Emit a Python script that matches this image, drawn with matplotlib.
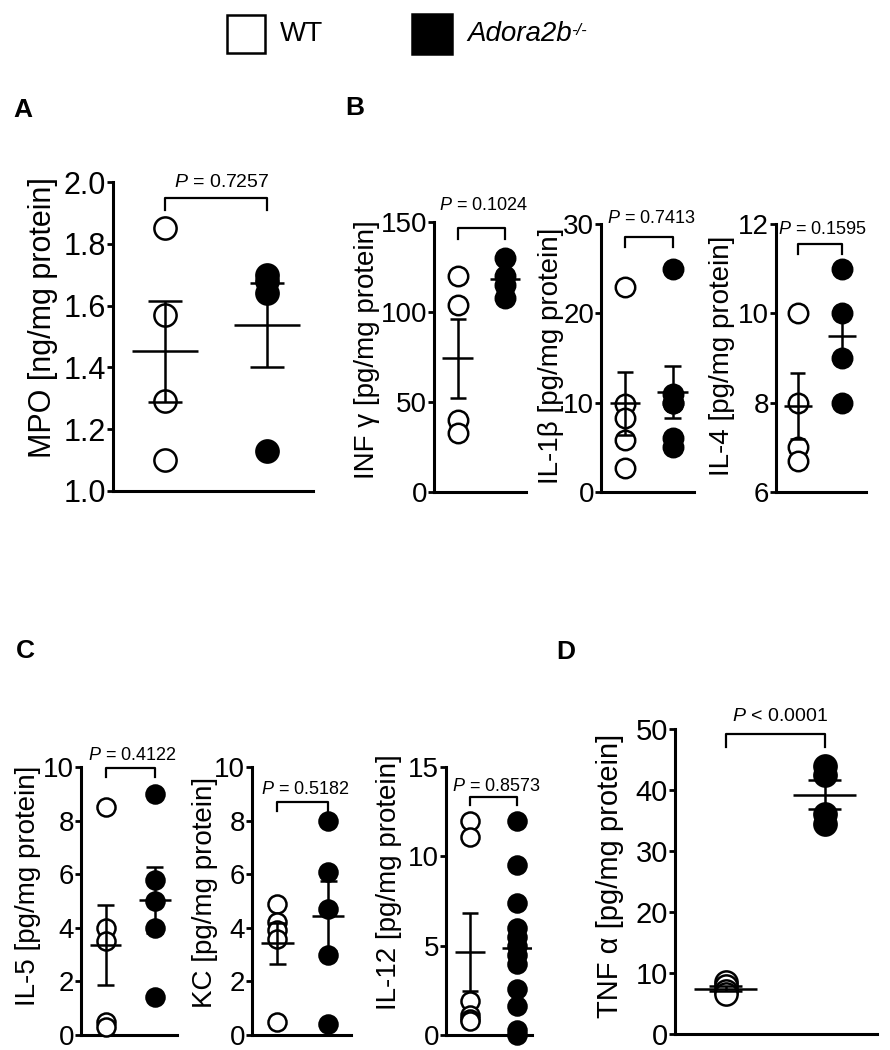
import numpy as np
import matplotlib
matplotlib.use("Agg")
import matplotlib.pyplot as plt
from matplotlib.patches import Rectangle

plt.rcParams.update({
    "font.family": ["Liberation Sans", "DejaVu Sans"],
    "mathtext.fontset": "custom",
    "mathtext.rm": "Liberation Sans",
    "mathtext.it": "Liberation Sans:italic",
    "mathtext.bf": "Liberation Sans:bold",
})

W, H = 890, 1050

# ---- data ----
groups = ["WT", "Adora2b"]

mpo_wt = [1.85, 1.57, 1.29, 1.10]
mpo_ko = [1.70, 1.68, 1.64, 1.13]

ifng_wt = [120, 104, 40, 33]
ifng_ko = [130, 120, 115, 108]

il1b_wt = [23, 9.8, 8.3, 5.8, 2.7]
il1b_ko = [25, 11, 10, 10, 6, 5]

il4_wt = [10, 8, 7, 6.7]
il4_ko = [11, 10, 9, 8]

il5_wt = [8.5, 4, 3.5, 0.5, 0.3]
il5_ko = [9, 5.8, 5, 4, 1.4]

kc_wt = [4.9, 4.2, 3.9, 3.6, 0.5]
kc_ko = [8, 6.1, 4.7, 3, 0.4]

il12_wt = [12, 11.1, 1.9, 1.1, 0.9, 0.8]
il12_ko = [12, 9.5, 7.4, 6, 5.5, 5, 4.5, 4, 2.6, 1.6, 0.3, 0]

tnf_wt = [8.5, 7.8, 7, 6.5]
tnf_ko = [44, 42.5, 36, 34.5]

p_labels = ["= 0.7257", "= 0.1024", "= 0.7413", "= 0.1595",
            "= 0.4122", "= 0.5182", "= 0.8573", "< 0.0001"]


def rect(l, t, r, b):
    return [l / W, 1 - b / H, (r - l) / W, (b - t) / H]


fig = plt.figure(figsize=(W / 100, H / 100), dpi=100)
fig.patch.set_facecolor("white")


def panel(box, wt, ko, ylim, yticks, ylabel, lab_px, ptext, br, xlim=(0.5, 2.45),
          ms=14, fs=20, lfs=20, pfs=13, fmt=None):
    l, t, r, b = box
    ax = fig.add_axes(rect(*box))
    for s in ["top", "right"]:
        ax.spines[s].set_visible(False)
    for s in ["left", "bottom"]:
        ax.spines[s].set_linewidth(2.2)
    ax.set_xlim(*xlim)
    ax.set_ylim(*ylim)
    ax.set_yticks(yticks)
    if fmt:
        ax.set_yticklabels([fmt.format(v) for v in yticks])
    ax.tick_params(axis="y", length=4, width=2, labelsize=fs, pad=1)
    ax.tick_params(axis="x", bottom=False, labelbottom=False)

    # points, mean and SEM for each group
    for x, vals, face in [(1, wt, "white"), (2, ko, "black")]:
        vals = np.asarray(vals, dtype=float)
        ax.plot(np.full(len(vals), x), vals, "o", ms=ms, mfc=face, mec="black",
                mew=1.8, clip_on=False, zorder=3)
        m = vals.mean()
        se = vals.std(ddof=1) / np.sqrt(len(vals))
        ax.hlines(m, x - 0.32, x + 0.32, color="black", lw=1.8, zorder=4)
        ax.vlines(x, m - se, m + se, color="black", lw=1.8, zorder=4)
        ax.hlines([m - se, m + se], x - 0.17, x + 0.17, color="black", lw=1.8, zorder=4)

    # significance bracket
    y_line, y_drop, y_text = br
    ax.plot([1, 1, 2, 2], [y_drop, y_line, y_line, y_drop], color="black", lw=1.6,
            clip_on=False)
    ax.text(1.55, y_text, r"$P$ " + ptext, ha="center", va="center", fontsize=pfs,
            clip_on=False)

    lx, ly = lab_px
    ax.text((lx - l) / (r - l), (b - ly) / (b - t), ylabel, transform=ax.transAxes,
            rotation=90, ha="center", va="center", fontsize=lfs)
    return ax


# A
panel((113, 182, 313, 491), mpo_wt, mpo_ko, (1.0, 2.0), np.arange(1.0, 2.01, 0.2),
      "MPO [ng/mg protein]", (43, 318), p_labels[0], (1.948, 1.908, 1.997),
      xlim=(0.49, 2.45), ms=16, fs=22, lfs=22, pfs=14, fmt="{:.1f}")
# B
panel((434, 222, 526, 492), ifng_wt, ifng_ko, (0, 150), [0, 50, 100, 150],
      "INF γ [pg/mg protein]", (367, 350), p_labels[1], (146.7, 140.5, 159.4))
panel((601, 224, 694, 492), il1b_wt, il1b_ko, (0, 30), [0, 10, 20, 30],
      "IL-1β [pg/mg protein]", (551, 356), p_labels[2], (28.6, 27.4, 30.6))
panel((776, 224, 866, 492), il4_wt, il4_ko, (6, 12), [6, 8, 10, 12],
      "IL-4 [pg/mg protein]", (722, 356), p_labels[3], (11.56, 11.33, 11.87),
      xlim=(0.51, 2.55))
# C
panel((81, 767, 177, 1035), il5_wt, il5_ko, (0, 10), [0, 2, 4, 6, 8, 10],
      "IL-5 [pg/mg protein]", (28, 886), p_labels[4], (9.96, 9.63, 10.44), ms=13)
panel((252, 767, 351, 1035), kc_wt, kc_ko, (0, 10), [0, 2, 4, 6, 8, 10],
      "KC [pg/mg protein]", (205, 892), p_labels[5], (8.7, 8.34, 9.15), ms=13)
panel((446, 767, 532, 1035), il12_wt, il12_ko, (0, 15), [0, 5, 10, 15],
      "IL-12 [pg/mg protein]", (389, 882), p_labels[6], (13.3, 12.9, 13.9),
      xlim=(0.49, 2.31), ms=13)
# D
panel((675, 729, 877, 1034), tnf_wt, tnf_ko, (0, 50), [0, 10, 20, 30, 40, 50],
      "TNF α [pg/mg protein]", (610, 876), p_labels[7], (49.2, 47.1, 52.1),
      xlim=(0.49, 2.53), ms=16, fs=21, lfs=21, pfs=14)

# panel letters
for letter, (x, y) in zip("ABCD", [(23, 110), (355, 108), (25, 651), (566, 652)]):
    fig.text(x / W, 1 - y / H, letter, ha="center", va="center", fontsize=19,
             fontweight="bold")

# legend
fig.add_artist(Rectangle((227 / W, 1 - 53 / H), 38 / W, 38 / H, transform=fig.transFigure,
                         facecolor="white", edgecolor="black", lw=1.8))
fig.text(280 / W, 1 - 34 / H, groups[0], ha="left", va="center", fontsize=20)
fig.add_artist(Rectangle((412 / W, 1 - 54 / H), 40 / W, 40 / H, transform=fig.transFigure,
                         facecolor="black", edgecolor="black", lw=1.8))
ko_txt = fig.text(467 / W, 1 - 34 / H, groups[1], ha="left", va="center", fontsize=20,
                  fontstyle="italic")
plt.annotate("-/-", xy=(1.0, 0.92), xycoords=ko_txt, ha="left", va="top",
             fontsize=12, fontstyle="italic", annotation_clip=False)

fig.savefig("out.png", dpi=100, facecolor="white")
